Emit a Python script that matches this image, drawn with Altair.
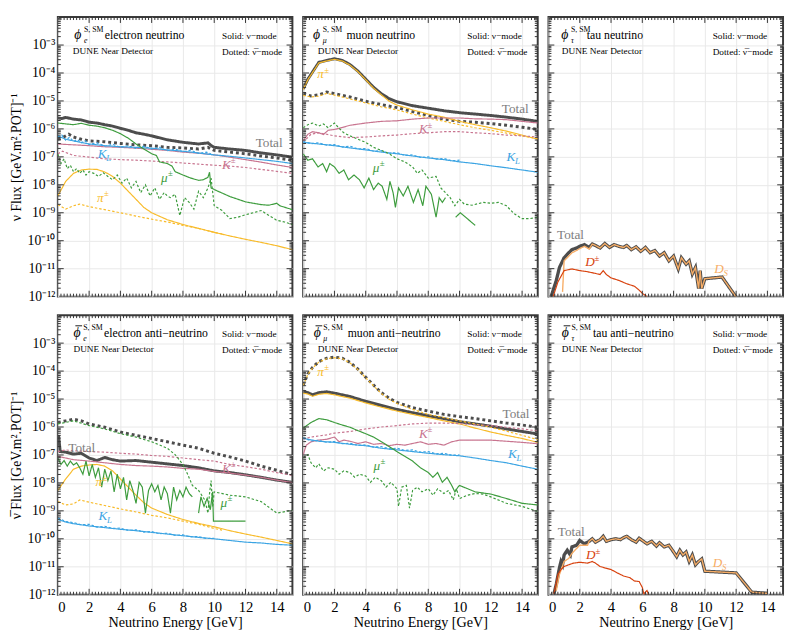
import altair as alt
import pandas as pd

FONT = "Liberation Serif"
W, H = 240, 286
GRID = "#e8e8e8"

C_TOT = "#4d4d4d"
C_PI = "#f8bb2a"
C_KPM = "#c8748f"
C_KL = "#3ba4e3"
C_MU = "#3d9c3d"
C_DPM = "#d8420e"
C_DS = "#f7ad66"
C_LBL = "#7d7d7d"

# ---------------- data (log10 of flux) ----------------
# Panel 1: electron neutrino
p1_tot_nu_E = [0, 0.25, 0.5, 0.75, 1, 1.5, 2, 2.5, 3, 3.5, 4, 4.5, 5, 5.5, 6, 7, 8, 9, 9.6, 9.8, 10, 11, 12, 13, 14, 15]
p1_tot_nu = [-5.61, -5.63, -5.59, -5.62, -5.65, -5.68, -5.76, -5.79, -5.85, -5.90, -5.98, -6.05, -6.14, -6.19, -6.25, -6.39, -6.48, -6.54, -6.50, -6.59, -6.66, -6.72, -6.77, -6.86, -6.93, -7.01]
p1_tot_an_E = [0, 0.3, 0.7, 1, 1.5, 2, 3, 4, 5, 6, 7, 8, 9, 9.6, 9.8, 10, 11, 12, 13, 14, 15]
p1_tot_an = [-6.37, -6.31, -6.19, -6.29, -6.37, -6.43, -6.46, -6.52, -6.57, -6.60, -6.66, -6.68, -6.72, -6.66, -6.72, -6.77, -6.83, -6.89, -6.97, -7.04, -7.12]
p1_pi_nu_E = [0, 0.5, 1, 1.5, 2, 2.5, 3, 3.5, 4, 4.5, 5, 5.5, 6, 7, 8, 9, 10, 11, 12, 13, 14, 15]
p1_pi_nu = [-8.40, -7.88, -7.59, -7.47, -7.44, -7.45, -7.54, -7.70, -7.94, -8.23, -8.52, -8.81, -9.00, -9.25, -9.42, -9.56, -9.70, -9.83, -9.95, -10.06, -10.18, -10.32]
p1_pi_an_E = [0, 0.5, 1, 1.4, 2, 3, 4, 5, 6, 7, 8, 9, 10, 10.5]
p1_pi_an = [-8.71, -8.87, -8.75, -8.69, -8.78, -8.89, -9.00, -9.12, -9.23, -9.33, -9.45, -9.56, -9.70, -9.76]
p1_kpm_nu_E = [0, 1, 2, 3, 4, 5, 6, 7, 8, 9, 10, 11, 12, 13, 14, 15]
p1_kpm_nu = [-6.54, -6.57, -6.60, -6.64, -6.66, -6.69, -6.73, -6.77, -6.83, -6.87, -6.93, -7.01, -7.10, -7.19, -7.29, -7.38]
p1_kpm_an_E = [0, 0.3, 1, 2, 3, 4, 5, 6, 7, 8, 9, 10, 11, 12, 13, 14, 15]
p1_kpm_an = [-6.89, -6.80, -6.95, -7.01, -7.07, -7.10, -7.12, -7.15, -7.18, -7.22, -7.26, -7.30, -7.33, -7.38, -7.45, -7.52, -7.59]
p1_kl_nu_E = [0, 0.5, 1, 2, 3, 4, 5, 6, 7, 8, 9, 10, 11, 12, 13, 14, 15]
p1_kl_nu = [-6.25, -6.37, -6.43, -6.54, -6.60, -6.64, -6.66, -6.69, -6.75, -6.80, -6.86, -6.93, -6.98, -7.04, -7.10, -7.16, -7.24]
p1_kl_an_E = [0, 0.25, 0.5, 0.75, 1, 1.25, 1.5, 1.75, 2, 2.5, 3, 3.5, 4, 4.5, 5, 5.5, 6, 6.5, 7, 7.5, 8, 8.5, 9, 9.5, 9.8]
p1_kl_an = [-6.30, -6.22, -6.40, -6.30, -6.45, -6.38, -6.50, -6.42, -6.56, -6.50, -6.62, -6.55, -6.66, -6.60, -6.70, -6.62, -6.72, -6.66, -6.78, -6.72, -6.82, -6.76, -6.88, -6.83, -6.90]
p1_mu_nu_E = [0, 0.5, 1, 1.5, 2, 2.5, 3, 3.5, 4, 4.5, 5, 5.5, 6, 6.3, 6.5, 7, 7.3, 7.5, 8, 8.5, 9, 9.3, 9.6, 9.7, 9.8, 10, 11, 12, 13, 13.5, 14, 14.2, 15]
p1_mu_nu = [-5.79, -5.82, -5.85, -5.80, -5.87, -5.90, -5.96, -6.05, -6.17, -6.33, -6.54, -6.72, -6.89, -6.95, -7.18, -7.24, -7.33, -7.53, -7.65, -7.76, -7.84, -7.82, -7.73, -7.55, -8.11, -8.17, -8.42, -8.61, -8.71, -8.73, -8.66, -8.75, -8.89]
p1_mu_an_E = [0, 0.2, 0.4, 0.6, 0.8, 1, 1.2, 1.4, 1.6, 1.8, 2, 2.3, 2.6, 2.9, 3.2, 3.5, 3.8, 4.1, 4.4, 4.7, 5, 5.3, 5.6, 5.9, 6.2, 6.5, 6.8, 7, 7.2, 7.5, 7.8, 8.1, 8.4, 8.7, 9, 9.3, 9.6, 9.8, 10, 10.5, 11, 11.5, 12, 12.5, 13, 13.5, 14, 14.5, 15]
p1_mu_an = [-6.90, -7.24, -7.07, -7.42, -7.30, -7.53, -7.42, -7.59, -7.47, -7.65, -7.53, -7.59, -7.70, -7.57, -7.70, -7.82, -7.65, -7.94, -7.76, -8.11, -7.88, -8.28, -8.00, -8.40, -8.11, -8.52, -8.28, -8.40, -8.46, -8.34, -9.10, -8.46, -8.63, -8.87, -8.23, -8.46, -8.11, -7.76, -8.75, -8.92, -9.21, -9.16, -9.07, -9.00, -8.92, -9.10, -9.27, -9.33, -9.42]

# Panel 2: muon neutrino
p2_tot_nu_E = [0, 0.3, 0.5, 1, 1.5, 2, 2.5, 3, 3.5, 4, 4.5, 5, 5.5, 6, 7, 8, 9, 10, 11, 12, 13, 14, 15]
p2_tot_nu = [-4.57, -4.22, -4.05, -3.62, -3.55, -3.49, -3.55, -3.70, -3.93, -4.22, -4.51, -4.74, -4.92, -5.03, -5.17, -5.26, -5.35, -5.42, -5.47, -5.52, -5.58, -5.65, -5.73]
p2_pi_nu = [-4.59, -4.24, -4.07, -3.64, -3.57, -3.51, -3.57, -3.72, -3.95, -4.24, -4.54, -4.78, -5.01, -5.15, -5.32, -5.47, -5.58, -5.73, -5.85, -5.96, -6.08, -6.22, -6.37]
p2_tot_an_E = [0, 0.5, 1, 1.5, 2, 3, 4, 5, 6, 7, 8, 9, 10, 11, 12, 13, 14, 15]
p2_tot_an = [-4.74, -4.82, -4.78, -4.68, -4.74, -4.86, -5.01, -5.13, -5.24, -5.38, -5.52, -5.65, -5.73, -5.76, -5.81, -5.87, -5.94, -6.02]
p2_pi_an = [-4.80, -4.86, -4.83, -4.73, -4.79, -4.93, -5.07, -5.21, -5.32, -5.47, -5.61, -5.73, -5.85, -5.96, -6.05, -6.15, -6.25, -6.35]
p2_kpm_nu_E = [0, 0.3, 0.6, 1, 1.3, 1.6, 2, 2.5, 3, 3.5, 4, 5, 6, 7, 8, 9, 10, 11, 12, 13, 14, 15]
p2_kpm_nu = [-6.43, -6.19, -6.10, -6.14, -6.20, -6.05, -6.02, -5.95, -5.87, -5.83, -5.79, -5.73, -5.71, -5.65, -5.61, -5.61, -5.61, -5.64, -5.65, -5.67, -5.73, -5.79]
p2_kpm_an_E = [0, 0.5, 1, 1.5, 2, 3, 4, 5, 6, 7, 8, 9, 10, 11, 12, 13, 14, 15]
p2_kpm_an = [-6.48, -6.19, -6.14, -6.19, -6.25, -6.31, -6.29, -6.25, -6.22, -6.17, -6.14, -6.10, -6.10, -6.14, -6.17, -6.22, -6.25, -6.29]
p2_kl_nu_E = [0, 1, 2, 3, 4, 5, 6, 7, 8, 9, 10, 11, 12, 13, 14, 15]
p2_kl_nu = [-6.48, -6.54, -6.60, -6.68, -6.75, -6.83, -6.89, -6.97, -7.04, -7.10, -7.18, -7.24, -7.32, -7.39, -7.47, -7.55]
p2_kl_an_E = [0, 0.5, 1, 1.5, 2, 2.5, 3, 3.5, 4, 4.5, 5, 5.5, 6, 6.5, 7, 7.5, 8, 8.5, 9, 9.5, 10]
p2_kl_an = [-6.45, -6.53, -6.50, -6.58, -6.56, -6.65, -6.62, -6.72, -6.70, -6.80, -6.78, -6.87, -6.85, -6.95, -6.93, -7.02, -7.00, -7.08, -7.06, -7.14, -7.12]
p2_mu_nu_a_E = [0, 0.3, 0.6, 0.95, 1.25, 1.5, 1.7, 2, 2.3, 2.6, 2.9, 3.25, 3.6, 3.9, 4.2, 4.5, 4.8, 5.05, 5.35, 5.55, 5.75, 5.9, 6.1, 6.4, 6.7, 7.05, 7.35, 7.65, 7.85, 8.2, 8.5, 8.7, 8.9, 9.1]
p2_mu_nu_a = [-6.89, -7.12, -7.07, -7.36, -7.24, -7.53, -7.24, -7.36, -7.59, -7.47, -7.82, -7.65, -7.82, -8.11, -7.76, -8.17, -7.94, -8.05, -8.52, -7.88, -8.28, -8.81, -8.11, -8.40, -8.05, -8.63, -8.17, -8.75, -8.05, -8.34, -9.16, -8.46, -8.63, -8.46]
p2_mu_nu_b_E = [9.75, 10.05, 11.0]
p2_mu_nu_b = [-9.16, -9.00, -9.45]
p2_mu_an_E = [0, 0.3, 0.6, 1, 1.3, 1.6, 2, 2.3, 2.6, 3, 3.5, 4, 4.5, 5, 5.5, 6, 6.5, 7, 7.3, 7.6, 8, 8.5, 8.8, 9.1, 9.4, 9.7, 10, 10.3, 10.8, 11.5, 12, 12.5, 13, 13.5, 14, 14.5, 15]
p2_mu_an = [-5.96, -5.85, -5.79, -5.90, -5.82, -5.96, -5.79, -5.98, -6.14, -6.25, -6.37, -6.48, -6.66, -6.77, -6.89, -7.07, -7.18, -7.36, -7.59, -7.47, -7.76, -7.70, -8.11, -8.28, -8.46, -8.75, -8.52, -8.69, -8.73, -8.63, -8.66, -8.63, -8.75, -9.04, -9.21, -9.21, -9.16]

# Panel 3: tau neutrino
p3_tot_E = [0.1, 0.3, 0.5, 0.7, 1, 1.3, 1.5, 1.8, 2, 2.3, 2.6, 2.8, 3, 3.3, 3.6, 3.9, 4.2, 4.5, 4.8, 5, 5.3, 5.6, 5.9, 6.2, 6.5, 6.8, 7.1, 7.4, 7.7, 8, 8.3, 8.5, 8.8, 9, 9.2, 9.4, 9.6, 9.7, 9.8, 10, 11.1, 12.05]
p3_tot = [-12.12, -11.77, -11.42, -10.96, -10.61, -10.43, -10.32, -10.26, -10.20, -10.14, -10.24, -10.12, -10.17, -10.26, -10.10, -10.24, -10.14, -10.20, -10.24, -10.17, -10.32, -10.22, -10.38, -10.24, -10.43, -10.35, -10.55, -10.43, -10.72, -10.55, -11.01, -10.61, -10.84, -10.72, -11.19, -10.96, -11.71, -11.07, -11.71, -11.36, -11.30, -12.06]
p3_ds_low_E = [0.9, 1.0, 1.3, 1.5, 1.8, 2, 2.3, 2.6]
p3_ds_low = [-11.83, -10.72, -10.55, -10.43, -10.35, -10.28, -10.20, -10.30]
p3_dpm_E = [0.3, 0.6, 1, 1.5, 2, 2.5, 3, 3.3, 3.5, 3.7, 4, 4.5, 5, 5.5, 5.8, 6, 6.3]
p3_dpm = [-12.0, -11.48, -11.07, -11.01, -11.07, -11.11, -11.17, -11.21, -11.07, -11.21, -11.33, -11.42, -11.54, -11.63, -11.77, -11.88, -12.0]

# Panel 4: electron anti-neutrino
p4_tot_nu_E = [0, 0.05, 0.15, 0.5, 1, 1.5, 2, 2.5, 3, 3.5, 4, 5, 6, 7, 8, 9, 10, 11, 12, 13, 14, 15]
p4_tot_nu = [-6.65, -6.30, -6.88, -6.90, -6.97, -6.94, -7.11, -7.20, -7.09, -7.17, -7.22, -7.20, -7.26, -7.32, -7.38, -7.46, -7.57, -7.63, -7.71, -7.80, -7.90, -7.98]
p4_tot_an_E = [0, 0.5, 1, 1.5, 2, 3, 4, 5, 6, 7, 8, 9, 10, 11, 12, 13, 14, 15]
p4_tot_an = [-5.84, -5.78, -5.72, -5.78, -5.89, -6.01, -6.18, -6.30, -6.41, -6.53, -6.65, -6.76, -6.94, -7.07, -7.22, -7.40, -7.55, -7.71]
p4_mu_an_E = [0, 1, 2, 3, 4, 5, 6, 7, 7.5, 8, 8.3, 8.6, 9, 9.4, 9.6, 9.7, 9.8, 9.9, 10, 11, 12, 13, 14, 15]
p4_mu_an = [-5.89, -5.78, -5.95, -6.07, -6.24, -6.36, -6.53, -6.76, -6.99, -7.34, -7.69, -8.09, -8.27, -8.61, -9.08, -8.38, -7.92, -8.84, -8.32, -8.44, -8.50, -8.67, -9.08, -8.98]
p4_kpm_E = [0, 0.5, 1, 2, 3, 4, 5, 6, 7, 8, 9, 10, 11, 12, 13, 14, 15]
p4_kpm_an = [-6.88, -6.82, -6.85, -6.88, -6.90, -6.94, -6.97, -7.02, -7.05, -7.11, -7.17, -7.22, -7.34, -7.42, -7.51, -7.63, -7.73]
p4_kpm_nu = [-7.05, -7.11, -7.17, -7.22, -7.28, -7.34, -7.38, -7.40, -7.43, -7.48, -7.51, -7.59, -7.65, -7.72, -7.80, -7.90, -7.99]
p4_mu_nu_a_E = [0, 0.2, 0.4, 0.6, 0.8, 1, 1.2, 1.4, 1.6, 1.8, 2, 2.2, 2.4, 2.6, 2.8, 3, 3.2, 3.4, 3.6, 3.8, 4, 4.2, 4.4, 4.6, 4.8, 5, 5.2, 5.4, 5.6, 5.8, 6, 6.2, 6.4, 6.6, 6.8, 7, 7.2, 7.4, 7.6, 7.8, 8, 8.2, 8.4, 8.6]
p4_mu_nu_a = [-7.11, -7.34, -7.20, -7.40, -7.22, -7.36, -7.28, -7.46, -7.69, -7.22, -7.75, -7.34, -7.80, -7.46, -8.15, -7.51, -7.92, -7.57, -8.32, -7.69, -8.21, -7.80, -8.61, -7.92, -8.27, -8.73, -7.98, -8.15, -9.08, -8.27, -8.03, -8.32, -8.09, -8.61, -8.15, -8.38, -9.08, -8.15, -8.61, -8.27, -8.50, -8.15, -8.38, -8.50]
p4_mu_nu_b_E = [9.0, 9.15, 9.35, 9.55, 9.75, 9.9, 9.95, 12.0]
p4_mu_nu_b = [-9.08, -8.50, -8.84, -8.55, -8.96, -8.32, -9.37, -9.37]
p4_pi_nu_E = [0, 0.5, 1, 1.5, 2, 2.5, 3, 3.5, 4, 4.5, 5, 5.5, 6, 7, 8, 9, 10, 11, 12, 13, 14, 15]
p4_pi_nu = [-8.27, -7.86, -7.51, -7.40, -7.36, -7.34, -7.40, -7.57, -7.86, -8.15, -8.44, -8.71, -8.90, -9.13, -9.31, -9.45, -9.57, -9.71, -9.83, -9.94, -10.06, -10.18]
p4_pi_an_E = [0, 0.5, 1, 1.4, 2, 3, 4, 5, 6, 7, 8, 9, 10, 10.5]
p4_pi_an = [-8.67, -8.79, -8.75, -8.61, -8.69, -8.81, -8.93, -9.04, -9.16, -9.25, -9.37, -9.48, -9.63, -9.69]
p4_kl_nu_E = [0, 0.5, 1, 2, 3, 4, 5, 6, 7, 8, 9, 10, 11, 12, 13, 14, 15]
p4_kl_nu = [-9.31, -9.40, -9.46, -9.54, -9.60, -9.66, -9.71, -9.77, -9.83, -9.89, -9.95, -10.00, -10.06, -10.12, -10.15, -10.20, -10.23]
p4_kl_an_E = [0, 0.5, 1, 1.5, 2, 2.5, 3, 3.5, 4, 4.5, 5, 5.5, 6, 6.5, 7, 7.5, 8, 8.5, 9, 9.5, 10]
p4_kl_an = [-9.25, -9.38, -9.42, -9.50, -9.48, -9.58, -9.55, -9.63, -9.62, -9.70, -9.68, -9.76, -9.74, -9.82, -9.80, -9.88, -9.86, -9.93, -9.92, -9.99, -9.98]

# Panel 5: muon anti-neutrino
p5_tot_an_E = [0, 0.3, 0.6, 1, 1.5, 2, 2.5, 3, 3.5, 4, 4.5, 5, 5.5, 6, 7, 8, 9, 10, 11, 12, 13, 14, 15]
p5_tot_an = [-4.50, -4.10, -3.87, -3.66, -3.54, -3.50, -3.54, -3.69, -3.93, -4.22, -4.50, -4.77, -4.97, -5.12, -5.31, -5.43, -5.55, -5.63, -5.70, -5.78, -5.86, -5.93, -6.01]
p5_pi_an = [-4.52, -4.12, -3.89, -3.68, -3.56, -3.52, -3.56, -3.71, -3.95, -4.24, -4.53, -4.80, -5.01, -5.16, -5.37, -5.55, -5.66, -5.78, -5.89, -6.01, -6.15, -6.30, -6.45]
p5_tot_nu_E = [0, 0.3, 0.6, 1, 1.5, 2, 3, 4, 5, 6, 7, 8, 9, 10, 11, 12, 13, 14, 15]
p5_tot_nu = [-4.74, -4.77, -4.85, -4.77, -4.74, -4.79, -4.91, -5.08, -5.23, -5.37, -5.49, -5.60, -5.70, -5.81, -5.89, -5.97, -6.07, -6.16, -6.25]
p5_pi_nu = [-4.79, -4.82, -4.90, -4.83, -4.80, -4.85, -4.97, -5.14, -5.29, -5.43, -5.55, -5.66, -5.78, -5.89, -6.04, -6.18, -6.30, -6.41, -6.55]
p5_kpm_an_E = [0, 0.5, 1, 1.5, 2, 3, 4, 5, 6, 7, 8, 9, 10, 11, 12, 13, 14, 15]
p5_kpm_an = [-6.44, -6.36, -6.32, -6.28, -6.22, -6.16, -6.07, -6.00, -5.95, -5.89, -5.86, -5.86, -5.88, -5.92, -5.95, -6.01, -6.07, -6.14]
p5_kpm_nu_E = [0, 0.2, 0.5, 1, 1.5, 2, 2.3, 2.6, 3, 3.5, 4, 4.5, 5, 5.5, 6, 6.5, 7, 7.5, 8, 8.5, 9, 9.5, 10, 11, 12, 13, 14, 15]
p5_kpm_nu = [-6.99, -6.65, -6.53, -6.47, -6.44, -6.36, -6.53, -6.47, -6.51, -6.59, -6.53, -6.62, -6.59, -6.67, -6.62, -6.65, -6.59, -6.53, -6.62, -6.59, -6.65, -6.53, -6.47, -6.47, -6.47, -6.51, -6.55, -6.60]
p5_kl_nu_E = [0, 1, 2, 3, 4, 5, 6, 7, 8, 9, 10, 11, 12, 13, 14, 15]
p5_kl_nu = [-6.41, -6.51, -6.55, -6.62, -6.67, -6.76, -6.82, -6.88, -6.94, -6.99, -7.03, -7.11, -7.20, -7.28, -7.40, -7.51]
p5_kl_an_E = [0, 0.5, 1, 1.5, 2, 2.5, 3, 3.5, 4, 4.5, 5, 5.5, 6, 6.5, 7, 7.5, 8, 8.5, 9, 9.5, 10]
p5_kl_an = [-6.38, -6.50, -6.48, -6.55, -6.52, -6.60, -6.58, -6.66, -6.64, -6.72, -6.70, -6.78, -6.76, -6.84, -6.82, -6.90, -6.88, -6.96, -6.94, -7.01, -7.00]
p5_mu_nu_E = [0, 0.5, 1, 1.5, 2, 2.5, 3, 3.5, 4, 4.5, 5, 5.5, 6, 6.5, 7, 7.5, 8, 8.3, 8.6, 8.9, 9.2, 9.5, 9.7, 9.9, 10, 11, 12, 13, 14, 15]
p5_mu_nu = [-6.04, -5.84, -5.70, -5.74, -5.84, -5.93, -6.01, -6.13, -6.24, -6.36, -6.53, -6.70, -6.88, -7.05, -7.22, -7.46, -7.63, -7.80, -7.63, -7.98, -7.80, -8.09, -8.32, -8.15, -8.09, -8.32, -8.40, -8.56, -8.73, -8.79]
p5_mu_an_E = [0, 0.3, 0.5, 0.8, 1, 1.3, 1.6, 2, 2.3, 2.6, 3, 3.3, 3.6, 4, 4.3, 4.6, 5, 5.3, 5.6, 6, 6.1, 6.3, 6.6, 6.8, 7, 7.3, 7.6, 8, 8.3, 8.6, 9, 9.3, 9.6, 9.8, 10, 10.5, 11, 11.5, 12, 13, 14, 15]
p5_mu_an = [-7.11, -6.99, -7.28, -7.46, -7.32, -7.57, -7.46, -7.51, -7.69, -7.57, -7.63, -7.80, -7.69, -7.75, -7.98, -7.80, -7.92, -8.15, -7.98, -8.21, -8.84, -8.15, -8.09, -8.90, -8.27, -8.15, -8.32, -8.21, -8.44, -8.21, -8.38, -8.27, -8.61, -8.21, -8.56, -8.44, -8.38, -8.40, -8.50, -8.73, -8.84, -9.02]

# Panel 6: tau anti-neutrino
p6_tot_E = [0.35, 0.5, 0.7, 0.8, 0.9, 1, 1.2, 1.4, 1.5, 1.8, 2, 2.3, 2.6, 2.8, 3, 3.3, 3.5, 3.7, 4, 4.3, 4.6, 4.8, 5, 5.3, 5.6, 5.8, 6, 6.3, 6.6, 6.9, 7.1, 7.4, 7.7, 8, 8.2, 8.4, 8.6, 8.8, 9, 9.2, 9.4, 9.6, 9.8, 10, 12, 13, 14]
p6_tot = [-11.97, -11.62, -11.04, -10.81, -10.93, -10.58, -10.41, -10.58, -10.29, -10.23, -10.06, -10.18, -10.09, -10.00, -10.12, -10.03, -9.91, -10.09, -10.03, -10.00, -10.03, -9.96, -9.91, -10.03, -10.12, -9.98, -10.06, -10.18, -10.09, -10.26, -10.14, -10.29, -10.23, -10.47, -10.64, -10.41, -10.58, -10.47, -10.81, -10.58, -10.93, -10.81, -10.72, -11.16, -11.22, -11.91, -11.95]
p6_ds_low_E = [0.5, 0.7, 1, 1.3, 1.5, 2, 2.5]
p6_ds_low = [-11.85, -11.28, -10.81, -10.70, -10.52, -10.23, -10.23]
p6_dpm_E = [0.35, 0.6, 0.8, 1, 1.3, 1.6, 2, 2.5, 2.8, 3, 3.3, 3.6, 4, 4.4, 4.8, 5.2, 5.5, 5.8, 6, 6.1, 6.3, 6.4]
p6_dpm = [-11.97, -11.28, -11.10, -10.99, -10.93, -10.87, -10.84, -10.87, -10.81, -10.87, -10.99, -11.04, -11.10, -11.22, -11.33, -11.39, -11.51, -11.53, -11.74, -11.97, -11.85, -12.0]

# ---------------- helpers ----------------
XVALS = [0, 2, 4, 6, 8, 10, 12, 14]
DEC = [float("1e%d" % e) for e in range(-12, -1)]
YLAB = DEC[:-1]
XS = alt.Scale(domain=[0, 15], nice=False, zero=False)
YS = alt.Scale(type="log", domain=[1e-12, 1e-2], nice=False)
LBL = ("'10' + ['⁰','⁻¹','⁻²','⁻³','⁻⁴','⁻⁵','⁻⁶','⁻⁷','⁻⁸','⁻⁹','⁻¹⁰','⁻¹¹','⁻¹²']"
       "[round(-log(datum.value)/LN10)]")

SOL, DOT, TDOT = "s", "d", "t"
TW, CW = 3.0, 1.2


def ser(E, L, key, color, dash, width):
    return pd.DataFrame({"E": E, "F": [10 ** v for v in L], "key": key,
                         "color": color, "dash": dash, "width": width})


def after(E, L, e0):
    pairs = [(e, l) for e, l in zip(E, L) if e >= e0]
    return [p[0] for p in pairs], [p[1] for p in pairs]


def lab(rows, E, ly, base, color, sup="", sub="", bw=0.45, size=13.5, italic=True):
    rows.append(dict(E=E, F=10 ** ly, text=base, color=color, size=size, it=italic))
    if sup:
        rows.append(dict(E=E + bw, F=10 ** (ly + 0.17), text=sup, color=color, size=9, it=False))
    if sub:
        rows.append(dict(E=E + bw, F=10 ** (ly - 0.15), text=sub, color=color, size=9, it=True))


def header(rows, flav, name, e_phi, e_name, e_dune):
    rows.append(dict(E=e_phi, F=10 ** -2.65, text="ϕ", color="#000", size=14, it=True))
    rows.append(dict(E=e_phi + 0.62, F=10 ** -2.85, text=flav, color="#000", size=8, it=True))
    rows.append(dict(E=e_phi + 0.62, F=10 ** -2.46, text="S, SM", color="#000", size=8, it=False))
    rows.append(dict(E=e_name, F=10 ** -2.65, text=name, color="#000", size=12, it=False))
    rows.append(dict(E=e_dune, F=10 ** -3.2, text="DUNE Near Detector", color="#000", size=9.5, it=False))
    rows.append(dict(E=10.5, F=10 ** -2.67, text="Solid: ν−mode", color="#000", size=9.5, it=False))
    rows.append(dict(E=10.5, F=10 ** -3.26, text="Dotted: ν\u0305−mode", color="#000", size=9.5, it=False))


def panel(tot_list, comp_list, rows, bottom, left, ytitle, bar_at=None):
    if bottom:
        xa = alt.Axis(values=XVALS, grid=True, gridColor=GRID, ticks=False, domain=False,
                      labelFontSize=15, labelPadding=5, labelFont=FONT, labelColor="#000",
                      title="Neutrino Energy [GeV]", titleFont=FONT, titleFontSize=14.5,
                      titleFontWeight="normal", titlePadding=2, titleColor="#000", format="d")
    else:
        xa = alt.Axis(values=XVALS, grid=True, gridColor=GRID, ticks=False, domain=False,
                      labels=False, title="")
    if left:
        ya = alt.Axis(values=YLAB, labelExpr=LBL, grid=True, gridColor=GRID, ticks=False,
                      domain=False, labelFont=FONT, labelFontSize=14, labelPadding=3,
                      labelColor="#000", title=ytitle, titleFont=FONT, titleFontSize=14,
                      titleFontWeight="normal", titlePadding=4, titleColor="#000")
    else:
        ya = alt.Axis(values=YLAB, grid=True, gridColor=GRID, ticks=False, domain=False,
                      labels=False, title="")
    X = alt.X("E:Q", scale=XS, axis=xa)
    Y = alt.Y("F:Q", scale=YS, axis=ya)
    dash = alt.StrokeDash("dash:N", legend=None,
                          scale=alt.Scale(domain=[SOL, DOT, TDOT], range=[[1, 0], [2.5, 2], [3, 3]]))

    def lines(dfs):
        return alt.Chart(pd.concat(dfs, ignore_index=True)).mark_line(clip=True).encode(
            x=X, y=Y, detail="key:N", color=alt.Color("color:N", scale=None),
            strokeDash=dash, strokeWidth=alt.StrokeWidth("width:Q", scale=None))

    layers = [lines(tot_list), lines(comp_list)]
    tdf = pd.DataFrame(rows)
    for it in (False, True):
        sub = tdf[tdf["it"] == it]
        if len(sub):
            layers.append(alt.Chart(sub).mark_text(
                align="left", baseline="middle", font=FONT,
                fontStyle="italic" if it else "normal").encode(
                x=X, y=Y, text="text:N", color=alt.Color("color:N", scale=None),
                size=alt.Size("size:Q", scale=None)))
    if bar_at is not None:
        bdf = pd.DataFrame({"E": [bar_at + 0.12], "E2": [bar_at + 0.55], "F": [10 ** -2.38]})
        layers.append(alt.Chart(bdf).mark_rule(color="#000", strokeWidth=0.9).encode(
            x=X, x2=alt.X2("E2:Q"), y=Y))

    xmaj = pd.DataFrame({"E": XVALS[1:]})
    xmin = pd.DataFrame({"E": [round(0.2 * i, 1) for i in range(1, 75) if i % 10]})
    ymaj = pd.DataFrame({"F": DEC[1:-1]})
    ymin = pd.DataFrame({"F": [m * 10.0 ** e for e in range(-12, -2) for m in range(2, 10)]})
    for df, L in ((xmaj, 6), (xmin, 3)):
        r = alt.Chart(df).mark_rule(color="#333", strokeWidth=1)
        layers.append(r.encode(x=X, y=alt.value(H), y2=alt.value(H - L)))
        layers.append(r.encode(x=X, y=alt.value(0), y2=alt.value(L)))
    for df, L in ((ymaj, 6), (ymin, 3)):
        r = alt.Chart(df).mark_rule(color="#333", strokeWidth=1)
        layers.append(r.encode(y=Y, x=alt.value(0), x2=alt.value(L)))
        layers.append(r.encode(y=Y, x=alt.value(W), x2=alt.value(W - L)))
    return alt.layer(*layers).properties(width=W, height=H)


YT_NU = "ν Flux [GeV.m².POT]⁻¹"
YT_AN = "ν\u0305 Flux [GeV.m².POT]⁻¹"

# ---- panel 1
r1 = []
header(r1, "e", "electron neutrino", 1.05, 3.0, 0.96)
lab(r1, 12.65, -6.50, "Total", C_LBL, italic=False)
lab(r1, 2.55, -6.89, "K", C_KL, sub="L", bw=0.55)
lab(r1, 10.5, -7.30, "K", C_KPM, sup="±", bw=0.55)
lab(r1, 6.6, -7.76, "μ", C_MU, sup="±")
lab(r1, 2.5, -8.46, "π", C_PI, sup="±")
P1 = panel(
    [ser(p1_tot_nu_E, p1_tot_nu, "tn", C_TOT, SOL, TW), ser(p1_tot_an_E, p1_tot_an, "ta", C_TOT, TDOT, TW)],
    [ser(p1_pi_nu_E, p1_pi_nu, "pn", C_PI, SOL, CW), ser(p1_pi_an_E, p1_pi_an, "pa", C_PI, DOT, CW),
     ser(p1_kpm_nu_E, p1_kpm_nu, "kn", C_KPM, SOL, CW), ser(p1_kpm_an_E, p1_kpm_an, "ka", C_KPM, DOT, CW),
     ser(p1_kl_nu_E, p1_kl_nu, "ln", C_KL, SOL, CW), ser(p1_kl_an_E, p1_kl_an, "la", C_KL, DOT, CW),
     ser(p1_mu_nu_E, p1_mu_nu, "mn", C_MU, SOL, CW), ser(p1_mu_an_E, p1_mu_an, "ma", C_MU, DOT, CW)],
    r1, False, True, YT_NU)

# ---- panel 2
r2 = []
header(r2, "μ", "muon neutrino", 0.63, 2.77, 0.94)
lab(r2, 12.7, -5.30, "Total", C_LBL, italic=False)
lab(r2, 0.9, -4.05, "π", C_PI, sup="±")
lab(r2, 7.4, -6.02, "K", C_KPM, sup="±", bw=0.55)
lab(r2, 13.0, -7.01, "K", C_KL, sub="L", bw=0.55)
lab(r2, 4.45, -7.41, "μ", C_MU, sup="±")
P2 = panel(
    [ser(p2_tot_nu_E, p2_tot_nu, "tn", C_TOT, SOL, TW), ser(p2_tot_an_E, p2_tot_an, "ta", C_TOT, TDOT, TW)],
    [ser(p2_tot_nu_E, p2_pi_nu, "pn", C_PI, SOL, CW), ser(p2_tot_an_E, p2_pi_an, "pa", C_PI, DOT, CW),
     ser(p2_kpm_nu_E, p2_kpm_nu, "kn", C_KPM, SOL, CW), ser(p2_kpm_an_E, p2_kpm_an, "ka", C_KPM, DOT, CW),
     ser(p2_kl_nu_E, p2_kl_nu, "ln", C_KL, SOL, CW), ser(p2_kl_an_E, p2_kl_an, "la", C_KL, DOT, CW),
     ser(p2_mu_nu_a_E, p2_mu_nu_a, "mn1", C_MU, SOL, CW), ser(p2_mu_nu_b_E, p2_mu_nu_b, "mn2", C_MU, SOL, CW),
     ser(p2_mu_an_E, p2_mu_an, "ma", C_MU, DOT, CW)],
    r2, False, False, "")

# ---- panel 3
r3 = []
header(r3, "τ", "tau neutrino", 0.82, 2.45, 0.85)
lab(r3, 0.55, -9.79, "Total", C_LBL, italic=False)
lab(r3, 2.35, -10.78, "D", C_DPM, sup="±", bw=0.6)
lab(r3, 10.6, -11.01, "D", C_DS, sub="S", bw=0.6)
e3, l3 = after(p3_tot_E, p3_tot, 2.8)
P3 = panel(
    [ser(p3_tot_E, p3_tot, "tn", C_TOT, SOL, 3.4)],
    [ser(p3_ds_low_E + e3, p3_ds_low + l3, "ds", C_DS, SOL, 1.4),
     ser(p3_dpm_E, p3_dpm, "dp", C_DPM, SOL, CW)],
    r3, False, False, "")

# ---- panel 4
r4 = []
header(r4, "e", "electron anti−neutrino", 1.0, 2.95, 1.0)
lab(r4, 0.67, -6.76, "Total", C_LBL, italic=False)
lab(r4, 10.5, -7.50, "K", C_KPM, sup="±", bw=0.55)
lab(r4, 2.4, -7.98, "π", C_PI, sup="±")
lab(r4, 10.4, -8.73, "μ", C_MU, sup="±")
lab(r4, 2.6, -9.19, "K", C_KL, sub="L", bw=0.55)
P4 = panel(
    [ser(p4_tot_nu_E, p4_tot_nu, "tn", C_TOT, SOL, TW), ser(p4_tot_an_E, p4_tot_an, "ta", C_TOT, TDOT, TW)],
    [ser(p4_pi_nu_E, p4_pi_nu, "pn", C_PI, SOL, CW), ser(p4_pi_an_E, p4_pi_an, "pa", C_PI, DOT, CW),
     ser(p4_kpm_E, p4_kpm_nu, "kn", C_KPM, SOL, CW), ser(p4_kpm_E, p4_kpm_an, "ka", C_KPM, DOT, CW),
     ser(p4_kl_nu_E, p4_kl_nu, "ln", C_KL, SOL, CW), ser(p4_kl_an_E, p4_kl_an, "la", C_KL, DOT, CW),
     ser(p4_mu_nu_a_E, p4_mu_nu_a, "mn1", C_MU, SOL, CW), ser(p4_mu_nu_b_E, p4_mu_nu_b, "mn2", C_MU, SOL, CW),
     ser(p4_mu_an_E, p4_mu_an, "ma", C_MU, DOT, CW)],
    r4, True, True, YT_AN, bar_at=1.0)

# ---- panel 5
r5 = []
header(r5, "μ", "muon anti−neutrino", 0.67, 2.85, 0.94)
lab(r5, 12.75, -5.55, "Total", C_LBL, italic=False)
lab(r5, 0.9, -4.04, "π", C_PI, sup="±")
lab(r5, 7.4, -6.24, "K", C_KPM, sup="±", bw=0.55)
lab(r5, 13.1, -6.97, "K", C_KL, sub="L", bw=0.55)
lab(r5, 4.5, -7.40, "μ", C_MU, sup="±")
P5 = panel(
    [ser(p5_tot_nu_E, p5_tot_nu, "tn", C_TOT, SOL, TW), ser(p5_tot_an_E, p5_tot_an, "ta", C_TOT, TDOT, TW)],
    [ser(p5_tot_nu_E, p5_pi_nu, "pn", C_PI, SOL, CW), ser(p5_tot_an_E, p5_pi_an, "pa", C_PI, DOT, CW),
     ser(p5_kpm_nu_E, p5_kpm_nu, "kn", C_KPM, SOL, CW), ser(p5_kpm_an_E, p5_kpm_an, "ka", C_KPM, DOT, CW),
     ser(p5_kl_nu_E, p5_kl_nu, "ln", C_KL, SOL, CW), ser(p5_kl_an_E, p5_kl_an, "la", C_KL, DOT, CW),
     ser(p5_mu_nu_E, p5_mu_nu, "mn", C_MU, SOL, CW), ser(p5_mu_an_E, p5_mu_an, "ma", C_MU, DOT, CW)],
    r5, True, False, "", bar_at=0.67)

# ---- panel 6
r6 = []
header(r6, "τ", "tau anti−neutrino", 0.85, 2.85, 0.85)
lab(r6, 0.6, -9.77, "Total", C_LBL, italic=False)
lab(r6, 2.4, -10.60, "D", C_DPM, sup="±", bw=0.6)
lab(r6, 10.5, -10.87, "D", C_DS, sub="S", bw=0.6)
e6, l6 = after(p6_tot_E, p6_tot, 2.6)
P6 = panel(
    [ser(p6_tot_E, p6_tot, "tn", C_TOT, SOL, 3.4)],
    [ser(p6_ds_low_E + e6, p6_ds_low + l6, "ds", C_DS, SOL, 1.4),
     ser(p6_dpm_E, p6_dpm, "dp", C_DPM, SOL, CW)],
    r6, True, False, "", bar_at=0.85)

top = alt.hconcat(P1, P2, P3, spacing=7)
bot = alt.hconcat(P4, P5, P6, spacing=7)
chart = alt.vconcat(top, bot, spacing=9).properties(
    padding={"left": 0, "top": 0, "right": 0, "bottom": 0}
).configure(font=FONT).configure_view(stroke="#3a3a3a", strokeWidth=2)

chart.save("out.html", embed_options={"renderer": "svg", "actions": False})
